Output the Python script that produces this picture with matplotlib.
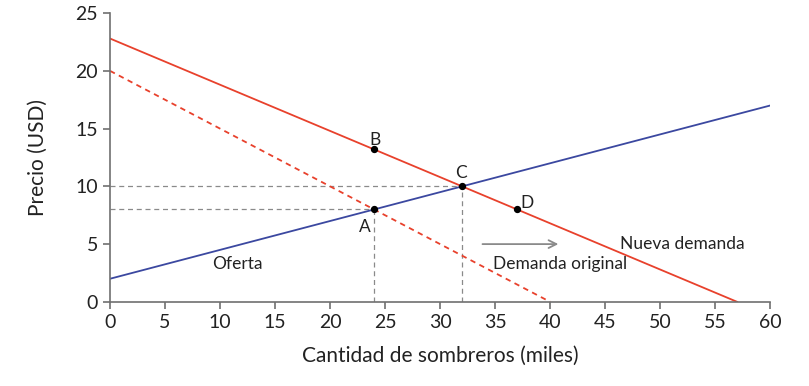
import matplotlib.pyplot as plt
import numpy as np

plt.rcParams['font.family'] = ['Lato', 'DejaVu Sans']

# datos de las curvas
cantidad = [0, 60]
oferta = [2, 17]
cantidad_dem_orig = [0, 40]
demanda_original = [20, 0]
cantidad_dem_nueva = [0, 57]
demanda_nueva = [22.8, 0]

# puntos marcados
puntos = ['A', 'B', 'C', 'D']
puntos_x = [24, 24, 32, 37]
puntos_y = [8, 13.2, 10, 8]

rojo = '#e8412c'
azul = '#3b48a0'
gris_eje = '#707070'

fig = plt.figure(figsize=(8.09, 3.86), dpi=100)
ax = fig.add_axes([0.136, 0.218, 0.816, 0.748])

# lineas guia
for px, py in [(24, 8), (32, 10)]:
    ax.plot([0, px], [py, py], ls=(0, (4, 3)), color='#8a8a8a', lw=0.9)
    ax.plot([px, px], [0, py], ls=(0, (4, 3)), color='#8a8a8a', lw=0.9)

ax.plot(cantidad, oferta, color=azul, lw=1.3)
ax.plot(cantidad_dem_orig, demanda_original, color=rojo, lw=1.3, ls=(0, (3, 2.5)))
ax.plot(cantidad_dem_nueva, demanda_nueva, color=rojo, lw=1.3)

ax.scatter(puntos_x, puntos_y, s=18, color='black', zorder=5)

desplaz = {'A': (-0.8, -1.5), 'B': (0.1, 0.8), 'C': (-0.1, 1.2), 'D': (0.9, 0.6)}
for n, x, y in zip(puntos, puntos_x, puntos_y):
    dx, dy = desplaz[n]
    ax.text(x + dx, y + dy, n, fontsize=12.5, ha='center', va='center', color='#222222')

ax.text(11.6, 3.3, 'Oferta', fontsize=12.5, ha='center', va='center', color='#222222')
ax.text(40.9, 3.3, 'Demanda original', fontsize=12.5, ha='center', va='center', color='#222222')
ax.text(52.0, 5.0, 'Nueva demanda', fontsize=12.5, ha='center', va='center', color='#222222')

ax.annotate('', xy=(41, 5.0), xytext=(33.6, 5.0),
            arrowprops=dict(arrowstyle='->', color='#8a8a8a', lw=1.3, mutation_scale=14))

ax.set_xlim(0, 60)
ax.set_ylim(0, 25)
ax.set_xticks(np.arange(0, 61, 5))
ax.set_yticks(np.arange(0, 26, 5))
ax.spines['top'].set_visible(False)
ax.spines['right'].set_visible(False)
for s in ['left', 'bottom']:
    ax.spines[s].set_color(gris_eje)
    ax.spines[s].set_linewidth(1.2)
ax.tick_params(colors=gris_eje, labelcolor='#222222', labelsize=14, length=5, width=1.2)

ax.set_xlabel('Cantidad de sombreros (miles)', fontsize=15, color='#222222', labelpad=11)
ax.set_ylabel('Precio (USD)', fontsize=15, color='#222222', labelpad=20)

fig.savefig('out.png', dpi=100)
